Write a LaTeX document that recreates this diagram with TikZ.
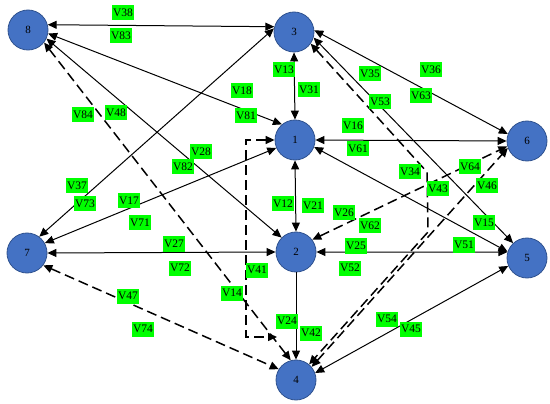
\documentclass[tikz,border=0pt]{standalone}
\usepackage{fontspec}
\setmainfont{Liberation Serif}
\usetikzlibrary{arrows.meta}
\definecolor{nodeblue}{HTML}{4472C4}
\definecolor{nodeedge}{HTML}{2F528F}
\definecolor{labgreen}{HTML}{00FF00}
\tikzset{
  vertex/.style={circle,draw=nodeedge,fill=nodeblue,line width=0.8pt,minimum size=40pt,inner sep=0pt,font=\fontsize{11}{11}\selectfont},
  vlab/.style={fill=labgreen,inner xsep=1pt,inner ysep=0pt,minimum height=15pt,font=\fontsize{11.5}{11.5}\selectfont},
  both/.style={line width=1pt,{Triangle[length=9pt,width=8pt]}-{Triangle[length=9pt,width=8pt]}},
  oneway/.style={line width=1pt,-{Triangle[length=9pt,width=8pt]}},
  dashline/.style={line width=1.5pt,dash pattern=on 10pt off 5pt}
}
\begin{document}
\begin{tikzpicture}[x=1pt,y=-1pt]
\useasboundingbox (0,0) rectangle (550,404);
% nodes
\node[vertex] (n8) at (28,30) {8};
\node[vertex] (n3) at (294,32) {3};
\node[vertex] (n1) at (295,140) {1};
\node[vertex] (n6) at (527,141) {6};
\node[vertex] (n7) at (27,253) {7};
\node[vertex] (n2) at (296,252) {2};
\node[vertex] (n5) at (527,258) {5};
\node[vertex] (n4) at (296,380) {4};
\coordinate (k14) at (246,337);
\coordinate (e14) at (277,337);
\coordinate (b1) at (427,172);
\coordinate (b2) at (428,232);
% edges
\draw[both] (n8.15) -- (n3.165);
\draw[both] (n8.-10) -- (n1.130);
\draw[both] (n8.-25) -- (n2.135);
\draw[both,dashline] (n8.-38) -- (n4.105);
\draw[both] (n7.53) -- (n3.170);
\draw[both] (n7.29) -- (n1.203);
\draw[both] (n7.east) -- (n2.west);
\draw[both,dashline] (n7.-37) -- (n4.148);
\draw[both] (n1.north) -- (n3.south);
\draw[both] (n1.south) -- (n2.north);
\draw[both] (n1.east) -- (n6.west);
\draw[both] (n1.-20) -- (n5.162);
\draw[both,dashline] (n1.west) -| (k14) -- (e14);
\draw[both,dashline] (n2.37) -- (n6.195);
\draw[both] (n2.east) -- (n5.163);
\draw[oneway] (n2.south) -- (n4.north);
\draw[both] (n3.5) -- (n6.160);
\draw[both] (n3.-16) -- (n5.133);
\draw[both,dashline] (n3.-35) -- (b1) -- (b2) -- (n4.50);
\draw[both,dashline] (n4.40) -- (n6.200);
\draw[both] (n4.20) -- (n5.203);
% labels
\node[vlab] (l38) at (123,13) {V38};
\node[vlab] (l83) at (121,36) {V83};
\node[vlab] (l18) at (242,91) {V18};
\node[vlab] (l81) at (246,116) {V81};
\node[vlab] (l84) at (83,115) {V84};
\node[vlab] (l48) at (116,113) {V48};
\node[vlab] (l28) at (201,152) {V28};
\node[vlab] (l82) at (183,167) {V82};
\node[vlab] (l37) at (77,186) {V37};
\node[vlab] (l73) at (85,204) {V73};
\node[vlab] (l17) at (129,201) {V17};
\node[vlab] (l71) at (140,223) {V71};
\node[vlab] (l27) at (174,244) {V27};
\node[vlab] (l72) at (180,268) {V72};
\node[vlab] (l41) at (257,270) {V41};
\node[vlab] (l47) at (128,296) {V47};
\node[vlab] (l14) at (232,293) {V14};
\node[vlab] (l74) at (143,329) {V74};
\node[vlab] (l13) at (284,70) {V13};
\node[vlab] (l31) at (309,90) {V31};
\node[vlab] (l35) at (370,74) {V35};
\node[vlab] (l36) at (431,70) {V36};
\node[vlab] (l53) at (380,102) {V53};
\node[vlab] (l63) at (421,96) {V63};
\node[vlab] (l16) at (353,126) {V16};
\node[vlab] (l61) at (358,149) {V61};
\node[vlab] (l34) at (410,172) {V34};
\node[vlab] (l64) at (470,167) {V64};
\node[vlab] (l43) at (438,189) {V43};
\node[vlab] (l46) at (487,186) {V46};
\node[vlab] (l12) at (283,204) {V12};
\node[vlab] (l21) at (313,206) {V21};
\node[vlab] (l26) at (344,213) {V26};
\node[vlab] (l62) at (370,226) {V62};
\node[vlab] (l15) at (484,223) {V15};
\node[vlab] (l25) at (356,246) {V25};
\node[vlab] (l51) at (464,245) {V51};
\node[vlab] (l52) at (350,268) {V52};
\node[vlab] (l24) at (287,321) {V24};
\node[vlab] (l42) at (311,333) {V42};
\node[vlab] (l54) at (387,319) {V54};
\node[vlab] (l45) at (411,329) {V45};
\end{tikzpicture}
\end{document}
